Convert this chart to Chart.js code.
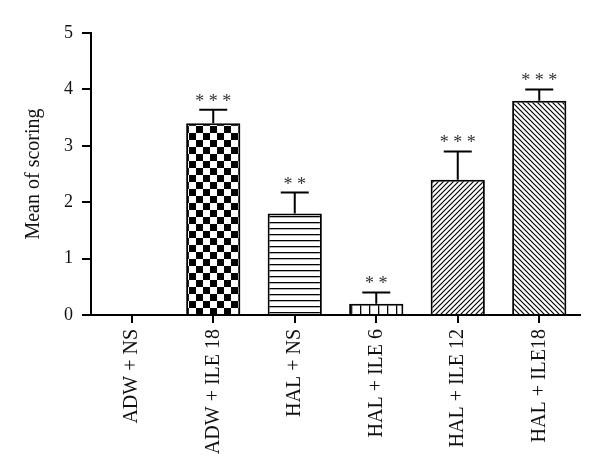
<!DOCTYPE html>
<html lang="en">
<head>
    <meta charset="UTF-8">
    <title>Mean of scoring</title>
    <script src="https://cdn.jsdelivr.net/npm/chart.js@4.4.0/dist/chart.umd.min.js"></script>
    <style>
        body { margin: 0; background: #fff; }
        #wrap { width: 600px; height: 473px; }
    </style>
</head>
<body>
    <div id="wrap"><canvas id="bar" width="600" height="473"></canvas></div>
<script>
    // groups on the x axis
    const groups = ['ADW + NS', 'ADW + ILE 18', 'HAL + NS', 'HAL + ILE 6', 'HAL + ILE 12', 'HAL + ILE18'];
    // mean score of each group
    const means = [0, 3.4, 1.8, 0.2, 2.4, 3.8];
    // upper error
    const errors = [0, 0.24, 0.37, 0.2, 0.5, 0.2];
    // significance marks above the bars
    const stars = ['', '* * *', '* *', '* *', '* * *', '* * *'];
    const yTicks = [0, 1, 2, 3, 4, 5];

    const serif = '"Liberation Serif", "Times New Roman", serif';

    // small tiles used as bar fills
    function makePattern(kind) {
        const c = document.createElement('canvas');
        const g = c.getContext('2d');
        let s = 6;
        if (kind == 'checker') s = 14;
        if (kind == 'vlines') s = 9;
        if (kind == 'diag1' || kind == 'diag2') s = 5;
        c.width = s; c.height = s;
        g.fillStyle = '#fff';
        g.fillRect(0, 0, s, s);
        g.strokeStyle = '#000';
        g.fillStyle = '#000';
        if (kind == 'checker') {
            g.fillRect(0, 0, 7, 7);
            g.fillRect(7, 7, 7, 7);
        }
        if (kind == 'hlines') {
            g.fillRect(0, 0, s, 1.3);
        }
        if (kind == 'vlines') {
            g.fillRect(0, 0, 1.3, s);
        }
        if (kind == 'diag1') {
            g.lineWidth = 1.2;
            g.beginPath();
            g.moveTo(-1, s + 1); g.lineTo(s + 1, -1);
            g.moveTo(-1, 1); g.lineTo(1, -1);
            g.moveTo(s - 1, s + 1); g.lineTo(s + 1, s - 1);
            g.stroke();
        }
        if (kind == 'diag2') {
            g.lineWidth = 1.2;
            g.beginPath();
            g.moveTo(-1, -1); g.lineTo(s + 1, s + 1);
            g.moveTo(s - 1, -1); g.lineTo(s + 1, 1);
            g.moveTo(-1, s - 1); g.lineTo(1, s + 1);
            g.stroke();
        }
        return g.createPattern(c, 'repeat');
    }

    const fills = ['#fff', makePattern('checker'), makePattern('hlines'),
                   makePattern('vlines'), makePattern('diag1'), makePattern('diag2')];

    // error bars (upper half only) and the stars
    const errorBars = {
        id: 'errorBars',
        afterDatasetsDraw(chart) {
            const ctx = chart.ctx;
            const y = chart.scales.y;
            const meta = chart.getDatasetMeta(0);
            ctx.save();
            ctx.strokeStyle = '#000';
            ctx.lineWidth = 2;
            ctx.fillStyle = '#333';
            ctx.font = '18px ' + serif;
            ctx.textAlign = 'center';
            ctx.textBaseline = 'alphabetic';
            meta.data.forEach((bar, i) => {
                if (errors[i] == 0) return;
                const top = y.getPixelForValue(means[i] + errors[i]);
                const base = y.getPixelForValue(means[i]);
                ctx.beginPath();
                ctx.moveTo(bar.x, base);
                ctx.lineTo(bar.x, top);
                ctx.moveTo(bar.x - 14, top);
                ctx.lineTo(bar.x + 14, top);
                ctx.stroke();
                ctx.fillText(stars[i], bar.x, top - 3);
            });
            ctx.restore();
        }
    };

    const ctx = document.getElementById('bar').getContext('2d');
    const myChart = new Chart(ctx, {
        type: 'bar',
        data: {
            labels: groups,
            datasets: [{
                data: means,
                backgroundColor: fills,
                borderColor: '#000',
                borderWidth: 2,
                borderSkipped: 'bottom',
                barPercentage: 0.665,
                categoryPercentage: 1.0,
            }]
        },
        plugins: [errorBars],
        options: {
            responsive: false,
            animation: false,
            layout: {
                padding: { top: 33, right: 20, left: 10, bottom: 0 }
            },
            plugins: {
                legend: { display: false },
                tooltip: { enabled: false }
            },
            scales: {
                x: {
                    offset: true,
                    grid: {
                        offset: false,
                        drawOnChartArea: false,
                        drawTicks: true,
                        tickLength: 8,
                        color: '#000',
                        lineWidth: 2,
                    },
                    border: { display: true, color: '#000', width: 2 },
                    ticks: {
                        color: '#111',
                        font: { family: serif, size: 20 },
                        minRotation: 90,
                        maxRotation: 90,
                        padding: 6,
                        autoSkip: false,
                    },
                    afterFit: (scale) => { scale.height = 158; }
                },
                y: {
                    min: 0,
                    max: 5,
                    afterBuildTicks: (scale) => { scale.ticks = yTicks.map(v => ({ value: v })); },
                    grid: {
                        drawOnChartArea: false,
                        drawTicks: true,
                        tickLength: 9,
                        color: '#000',
                        lineWidth: 2,
                    },
                    border: { display: true, color: '#000', width: 2 },
                    ticks: {
                        color: '#111',
                        font: { family: serif, size: 18 },
                        padding: 9,
                    },
                    title: {
                        display: true,
                        text: 'Mean of scoring',
                        color: '#111',
                        font: { family: serif, size: 20 },
                        padding: { top: 12, bottom: 0 },
                    },
                    afterFit: (scale) => { scale.width = 81; }
                }
            }
        }
    });
</script>
</body>
</html>
